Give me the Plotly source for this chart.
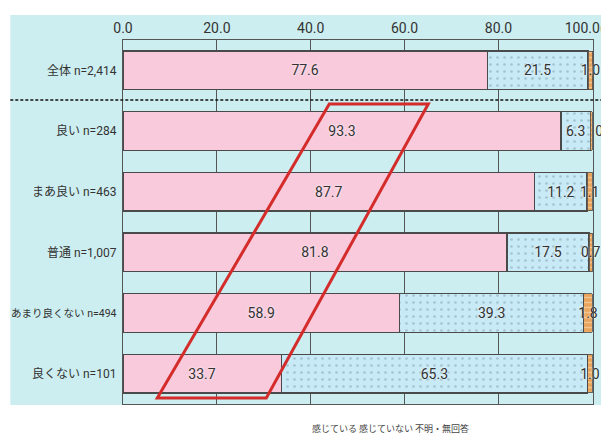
import plotly.graph_objects as go

categories = ["全体 n=2,414", "良い n=284", "まあ良い n=463", "普通 n=1,007", "あまり良くない n=494", "良くない n=101"]
feel = [77.6, 93.3, 87.7, 81.8, 58.9, 33.7]
not_feel = [21.5, 6.3, 11.2, 17.5, 39.3, 65.3]
unknown = [1.0, 0.4, 1.1, 0.7, 1.8, 1.0]
series_names = ["感じている", "感じていない", "不明・無回答"]
tick_vals = [0, 20, 40, 60, 80, 100]
tick_text = ["0.0", "20.0", "40.0", "60.0", "80.0", "100.0(%)"]

FONT = "Roboto, Noto Sans CJK JP"
txtfont = dict(family=FONT, size=14, color="#333333", shadow="0px 0px 3px white")

fig = go.Figure()
fig.add_trace(go.Bar(
    y=categories, x=feel, orientation="h", name=series_names[0],
    marker=dict(color="#f8cadc", line=dict(color="#4a4a4a", width=1.3)),
    text=[f"{v:.1f}" for v in feel], textposition="inside", insidetextanchor="middle",
    textangle=0, textfont=txtfont, hoverinfo="skip"))
fig.add_trace(go.Bar(
    y=categories, x=not_feel, orientation="h", name=series_names[1],
    marker=dict(color="#c8e9f6", line=dict(color="#4a4a4a", width=1.3),
                pattern=dict(shape=".", fgcolor="#7fa0a8", bgcolor="#c8e9f6",
                             size=7, solidity=0.12, fillmode="overlay")),
    text=[f"{v:.1f}" for v in not_feel], textposition="inside", insidetextanchor="middle",
    textangle=0, textfont=txtfont, hoverinfo="skip"))
fig.add_trace(go.Bar(
    y=categories, x=unknown, orientation="h", name=series_names[2],
    marker=dict(color="#e9a35a", line=dict(color="#4a4a4a", width=0.8),
                pattern=dict(shape="-", fgcolor="#fbe3c4", bgcolor="#e9a35a",
                             size=5, solidity=0.3, fillmode="overlay")),
    text=[f"{v:.1f}" for v in unknown],
    textposition=["outside" if v < 0.5 else "inside" for v in unknown],
    insidetextanchor="middle", cliponaxis=False, constraintext="none",
    textangle=0, textfont=txtfont, hoverinfo="skip"))

# plot area in screen pixels: left 122.7, width 470, top 40, height 364
PX0, PW, PY1, PH = 122.7, 470.0, 404.0, 364.0
XMAX = 100.15
# light cyan panel
fig.add_shape(type="rect", xref="paper", yref="paper",
              x0=(10 - PX0) / PW, x1=(604 - PX0) / PW,
              y0=(PY1 - 405) / PH, y1=(PY1 - 15) / PH,
              fillcolor="#cdeef0", line=dict(width=0), layer="below")
# dashed separator
fig.add_shape(type="line", xref="paper", yref="paper",
              x0=(10 - PX0) / PW, x1=(612 - PX0) / PW,
              y0=(PY1 - 100) / PH, y1=(PY1 - 100) / PH,
              line=dict(color="#111111", width=1.6, dash="3px,2px"))
# red parallelogram highlight
px = lambda p: (p - PX0) / (PW / XMAX)
py = lambda p: (PY1 - p) / PH
fig.add_shape(type="path", xref="x", yref="paper",
              path=f"M {px(329)},{py(104)} L {px(428)},{py(104)} L {px(266)},{py(398)} L {px(157)},{py(398)} Z",
              line=dict(color="#d42b2b", width=3))

fig.add_annotation(xref="paper", yref="paper", x=(390 - PX0) / PW, y=(PY1 - 437) / PH,
                   text="感じている 感じていない 不明・無回答", showarrow=False,
                   font=dict(family="Noto Sans CJK JP", size=9, color="#444444"))

cat_text = [f'<span style="font-size:10.5px">{c}</span>' if len(c) >= 13 else c for c in categories]

# page body has an 8px margin: shift figure coordinates by -8
fig.update_layout(
    width=601, height=438, barmode="stack", bargap=0.366,
    margin=dict(l=PX0 - 8, r=601 - (PX0 + PW - 8), t=40 - 8, b=438 - (PY1 - 8), autoexpand=False),
    paper_bgcolor="white", plot_bgcolor="white", showlegend=False,
    uniformtext=dict(minsize=14, mode="show"),
    font=dict(family=FONT, color="#333333"),
)
fig.update_xaxes(range=[0, XMAX], side="top", tickvals=tick_vals, ticktext=tick_text,
                 tickfont=dict(family=FONT, size=14, color="#333333"), ticklabeloverflow="allow",
                 showgrid=True, gridcolor="#555555", gridwidth=1,
                 showline=True, linecolor="#555555", linewidth=1.3, mirror=True,
                 ticks="", zeroline=False, fixedrange=True, automargin=False)
fig.update_yaxes(autorange="reversed", tickvals=categories, ticktext=cat_text,
                 tickfont=dict(family=FONT, size=12, color="#333333"),
                 showline=True, linecolor="#555555", linewidth=1.3, mirror=True,
                 ticks="", ticklabelstandoff=3, fixedrange=True, automargin=False)

fig.write_html("out.html")
